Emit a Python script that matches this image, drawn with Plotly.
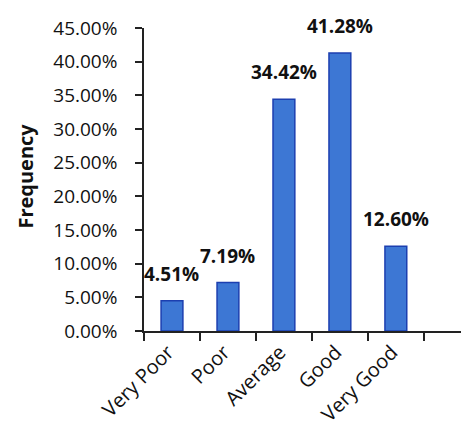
import plotly.graph_objects as go

categories = ["Very Poor", "Poor", "Average", "Good", "Very Good"]
values = [0.0451, 0.0719, 0.3442, 0.4128, 0.1260]
y_ticks = [0, 0.05, 0.10, 0.15, 0.20, 0.25, 0.30, 0.35, 0.40, 0.45]
y_tick_labels = [f"{v*100:.2f}%" for v in y_ticks]
value_labels = [f"{v*100:.2f}%" for v in values]

FONT = "Open Sans"

fig = go.Figure()
fig.add_trace(go.Bar(
    x=categories, y=values, width=0.39,
    marker=dict(color="#3d77d4", line=dict(color="#1c3fb0", width=1.5)),
    hoverinfo="skip",
))

for c, v, t in zip(categories, values, value_labels):
    fig.add_annotation(x=c, y=v, text=f"<b>{t}</b>", showarrow=False,
                       yanchor="bottom", yshift=12,
                       font=dict(family=FONT, size=19, color="#111111"))

fig.add_annotation(xref="paper", yref="paper", x=-0.357, y=0.51,
                   text="<b>Frequency</b>", textangle=-90, showarrow=False,
                   xanchor="center", yanchor="middle",
                   font=dict(family=FONT, size=20, color="#111111"))

fig.update_layout(
    width=469, height=429,
    margin=dict(l=136, r=0, t=20, b=106),
    paper_bgcolor="white", plot_bgcolor="white",
    showlegend=False,
    font=dict(family=FONT, color="#111111"),
    xaxis=dict(
        type="category", categoryorder="array", categoryarray=categories,
        range=[-0.5, 5.45], tickson="boundaries",
        ticks="outside", ticklen=8, tickwidth=1.5, tickcolor="#222222",
        showline=True, linecolor="#222222", linewidth=1.5,
        tickangle=-45,
        tickfont=dict(family=FONT, size=20, color="#111111"),
        ticklabelshift=-4,
        showgrid=False, zeroline=False, fixedrange=True, automargin=False,
    ),
    yaxis=dict(
        range=[0, 0.45], tickvals=y_ticks, ticktext=y_tick_labels,
        ticks="outside", ticklen=7, tickwidth=1.5, tickcolor="#222222",
        showline=True, linecolor="#222222", linewidth=1.5,
        tickfont=dict(family=FONT, size=19, color="#111111"),
        ticklabelstandoff=14,
        showgrid=False, zeroline=False, fixedrange=True, automargin=False,
    ),
)

fig.write_html("out.html")
